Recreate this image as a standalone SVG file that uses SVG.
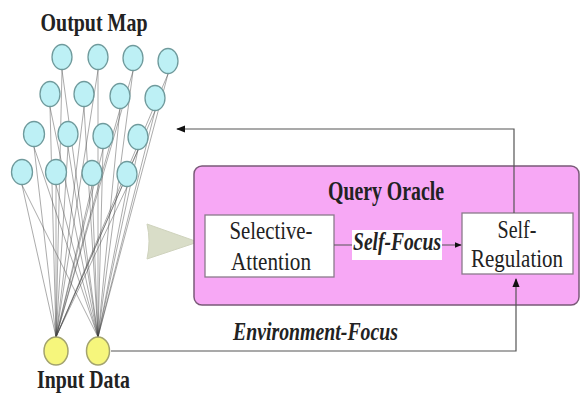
<svg xmlns="http://www.w3.org/2000/svg" width="581" height="398" viewBox="0 0 581 398">
<style>
.out{fill:#bdf0f5;stroke:#6f9a9c;stroke-width:1.3}
.inp{fill:#f6f67c;stroke:#a3a36e;stroke-width:1.5}
.w{stroke:#444;stroke-width:0.6;stroke-opacity:0.75;fill:none}
.conn{stroke:#555;stroke-width:1.2;fill:none}
text{font-family:'Liberation Serif','Times New Roman',Times,serif;fill:#222;text-anchor:middle}
.b{font-weight:bold}
.bi{font-weight:bold;font-style:italic}
.box{fill:#fff;stroke:#8a7a8a;stroke-width:1.3}
</style>
<defs>
<marker id="ah" viewBox="0 0 10 10" refX="9" refY="5" markerWidth="7" markerHeight="7" orient="auto" markerUnits="userSpaceOnUse">
<path d="M0,1 L10,5 L0,9 Z" fill="#111"/>
</marker>
<marker id="ah2" viewBox="0 0 10 10" refX="9" refY="5" markerWidth="9" markerHeight="9" orient="auto" markerUnits="userSpaceOnUse">
<path d="M0,1 L10,5 L0,9 Z" fill="#111"/>
</marker>
</defs>
<rect width="581" height="398" fill="#fff"/>

<g id="weights">
<path class="w" d="M56,337 L62,70 M56,337 L98,70 M56,337 L133,71 M56,337 L168,74 M56,337 L50,107 M56,337 L84,107 M56,337 L120,109 M56,337 L155,111 M56,337 L34,147 M56,337 L68,147 M56,337 L103,149 M56,337 L138,150 M56,337 L22,185 M56,337 L56,185 M56,337 L92,186 M56,337 L127,187"/>
<path class="w" d="M98,337 L62,70 M98,337 L98,70 M98,337 L133,71 M98,337 L168,74 M98,337 L50,107 M98,337 L84,107 M98,337 L120,109 M98,337 L155,111 M98,337 L34,147 M98,337 L68,147 M98,337 L103,149 M98,337 L138,150 M98,337 L22,185 M98,337 L56,185 M98,337 L92,186 M98,337 L127,187"/>
</g>

<g id="output-map">
<text class="b" transform="translate(94,31) scale(1,1.3)" font-size="20" textLength="107" lengthAdjust="spacingAndGlyphs">Output Map</text>
<ellipse class="out" cx="62" cy="57" rx="10" ry="12.5"/>
<ellipse class="out" cx="98" cy="57" rx="10" ry="12.5"/>
<ellipse class="out" cx="133" cy="58" rx="10" ry="12.5"/>
<ellipse class="out" cx="168" cy="61" rx="10" ry="12.5"/>
<ellipse class="out" cx="50" cy="94" rx="10" ry="12.5"/>
<ellipse class="out" cx="84" cy="94" rx="10" ry="12.5"/>
<ellipse class="out" cx="120" cy="96" rx="10" ry="12.5"/>
<ellipse class="out" cx="155" cy="98" rx="10" ry="12.5"/>
<ellipse class="out" cx="34" cy="134" rx="10.5" ry="12.5"/>
<ellipse class="out" cx="68" cy="134" rx="10" ry="12.5"/>
<ellipse class="out" cx="103" cy="136" rx="10" ry="12.5"/>
<ellipse class="out" cx="138" cy="137" rx="10" ry="12.5"/>
<ellipse class="out" cx="22" cy="172" rx="10.5" ry="12.5"/>
<ellipse class="out" cx="56" cy="172" rx="10.5" ry="12.5"/>
<ellipse class="out" cx="92" cy="173" rx="10" ry="12.5"/>
<ellipse class="out" cx="127" cy="174" rx="10" ry="12.5"/>
</g>

<g id="input-data">
<ellipse class="inp" cx="56" cy="351" rx="12" ry="14"/>
<ellipse class="inp" cx="98" cy="351" rx="11.5" ry="14"/>
<text class="b" transform="translate(83.5,388) scale(1,1.3)" font-size="19" textLength="93" lengthAdjust="spacingAndGlyphs">Input Data</text>
</g>

<g id="big-arrow">
<path d="M147,224 L198,242 L147,259 Q151,241 147,224 Z" fill="#d9ddc8" stroke="#cfd3bd" stroke-width="1"/>
</g>

<g id="query-oracle">
<rect x="194" y="166" width="385" height="139" rx="8" ry="8" fill="#f7a8f5" stroke="#7a5a78" stroke-width="1.5"/>
<text class="b" transform="translate(386,200) scale(1,1.35)" font-size="20" textLength="116" lengthAdjust="spacingAndGlyphs">Query Oracle</text>
</g>

<g id="selective-attention">
<rect class="box" x="205" y="215" width="129" height="62"/>
<text transform="translate(271,239) scale(1,1.3)" font-size="20" textLength="83" lengthAdjust="spacingAndGlyphs">Selective-</text>
<text transform="translate(271,270) scale(1,1.3)" font-size="20" textLength="80" lengthAdjust="spacingAndGlyphs">Attention</text>
</g>

<g id="self-regulation">
<rect class="box" x="462" y="213" width="111" height="61"/>
<text transform="translate(517,238) scale(1,1.3)" font-size="20">Self-</text>
<text transform="translate(517,267) scale(1,1.3)" font-size="20" textLength="92" lengthAdjust="spacingAndGlyphs">Regulation</text>
</g>

<g id="connectors">
<path class="conn" d="M514,213 L514,129 L177,129" marker-end="url(#ah2)"/>
<path class="conn" d="M334,245 L461,245" marker-end="url(#ah)"/>
<path class="conn" d="M111,351 L516,351 L516,279" marker-end="url(#ah2)"/>
<rect x="352" y="230" width="90" height="30" fill="#fff"/>
<text class="bi" transform="translate(397,250) scale(1,1.35)" font-size="19" textLength="88" lengthAdjust="spacingAndGlyphs">Self-Focus</text>
<text class="bi" transform="translate(315.5,340) scale(1,1.3)" font-size="20" textLength="165" lengthAdjust="spacingAndGlyphs">Environment-Focus</text>
</g>
</svg>
